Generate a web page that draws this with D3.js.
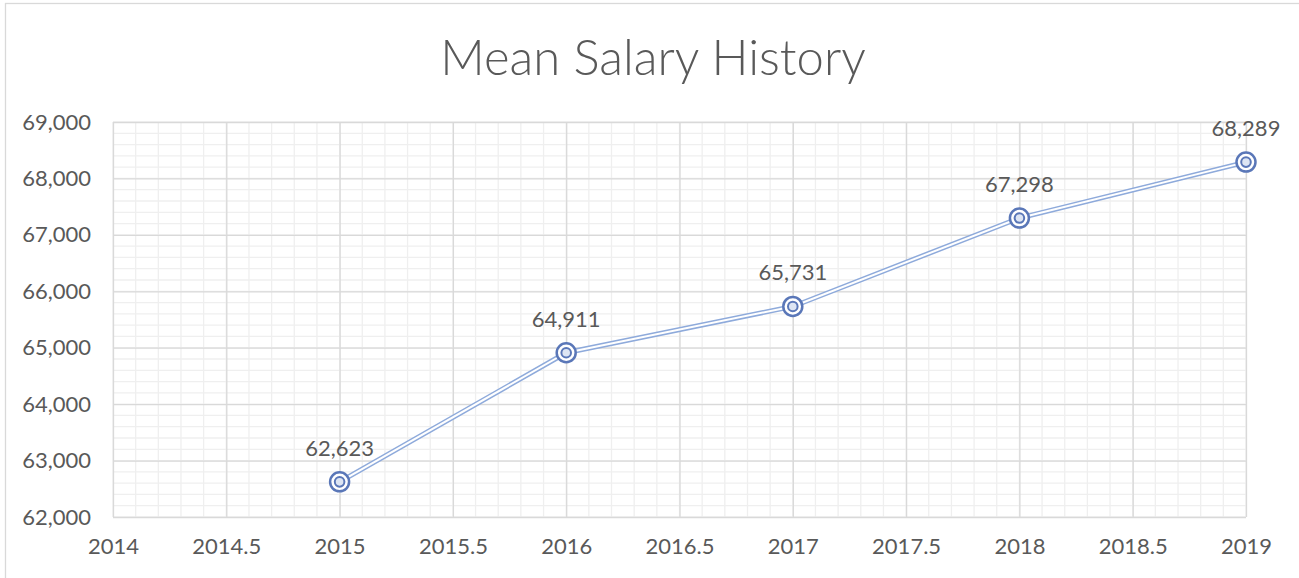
<!DOCTYPE html>
<html>
<head>
<meta charset="utf-8">
<script src="https://cdn.jsdelivr.net/npm/d3@7"></script>
<style>
  body { margin: 0; background: #fff; }
  svg text { font-family: Lato, "Open Sans", sans-serif; fill: #595959; }
</style>
</head>
<body>
<div id="chart"></div>
<script>
// data
var years = [2015, 2016, 2017, 2018, 2019];
var salaries = [62623, 64911, 65731, 67298, 68289];
var xTicks = [2014, 2014.5, 2015, 2015.5, 2016, 2016.5, 2017, 2017.5, 2018, 2018.5, 2019];
var yTicks = [62000, 63000, 64000, 65000, 66000, 67000, 68000, 69000];
var title = "Mean Salary History";

var W = 1299, H = 578;
var margin = { top: 122, right: 53, bottom: 61, left: 113 },
  width = W - margin.left - margin.right,
  height = H - margin.top - margin.bottom;

var svg = d3
  .select("#chart")
  .append("svg")
  .attr("width", W)
  .attr("height", H);

// chart frame
svg
  .append("rect")
  .attr("x", 5.5)
  .attr("y", 3.5)
  .attr("width", W)
  .attr("height", H)
  .attr("fill", "none")
  .attr("stroke", "#d9d9d9")
  .attr("stroke-width", 1.3);

svg
  .append("text")
  .attr("x", 653)
  .attr("y", 75)
  .attr("text-anchor", "middle")
  .style("font-size", "49px")
  .style("font-weight", 300)
  .text(title);

var g = svg
  .append("g")
  .attr("transform", "translate(" + margin.left + "," + margin.top + ")");

var x = d3.scaleLinear().domain([2014, 2019]).range([0, width]);
var y = d3.scaleLinear().domain([62000, 69000]).range([height, 0]);

// minor grid (5 per major)
var xMinor = d3.range(2014, 2019.0001, 0.1);
var yMinor = d3.range(62000, 69001, 200);
g.append("g")
  .selectAll("line")
  .data(xMinor)
  .enter()
  .append("line")
  .attr("x1", function (d) { return x(d); })
  .attr("x2", function (d) { return x(d); })
  .attr("y1", 0)
  .attr("y2", height)
  .attr("stroke", "#efefef")
  .attr("stroke-width", 1.3);
g.append("g")
  .selectAll("line")
  .data(yMinor)
  .enter()
  .append("line")
  .attr("x1", 0)
  .attr("x2", width)
  .attr("y1", function (d) { return y(d); })
  .attr("y2", function (d) { return y(d); })
  .attr("stroke", "#efefef")
  .attr("stroke-width", 1.3);

// major grid via axes
g.append("g")
  .attr("class", "grid")
  .attr("transform", "translate(0," + height + ")")
  .call(d3.axisBottom(x).tickValues(xTicks).tickSize(-height).tickFormat(""));
g.append("g")
  .attr("class", "grid")
  .call(d3.axisLeft(y).tickValues(yTicks).tickSize(-width).tickFormat(""));
g.selectAll(".grid .domain").remove();
g.selectAll(".grid line").attr("stroke", "#d9d9d9").attr("stroke-width", 1.3);

// axis labels
var xAxis = g
  .append("g")
  .attr("transform", "translate(0," + height + ")")
  .call(d3.axisBottom(x).tickValues(xTicks).tickSize(0).tickPadding(21).tickFormat(function (d) { return String(d); }));
var yAxis = g
  .append("g")
  .call(d3.axisLeft(y).tickValues(yTicks).tickSize(0).tickPadding(22).tickFormat(d3.format(",")));
[xAxis, yAxis].forEach(function (a) {
  a.select(".domain").remove();
  a.selectAll("text")
    .style("font-family", "Lato, 'Open Sans', sans-serif")
    .style("font-size", "22px")
    .attr("fill", "#595959");
});

var pts = years.map(function (d, i) { return [d, salaries[i]]; });
var line = d3
  .line()
  .x(function (d) { return x(d[0]); })
  .y(function (d) { return y(d[1]); });

// double line: wide light-blue stroke with a white core
g.append("path")
  .datum(pts)
  .attr("d", line)
  .attr("fill", "none")
  .attr("stroke", "#8eaadb")
  .attr("stroke-width", 5);
g.append("path")
  .datum(pts)
  .attr("d", line)
  .attr("fill", "none")
  .attr("stroke", "#ffffff")
  .attr("stroke-width", 2);

// double-ring markers
var marks = g.selectAll(".mark").data(pts).enter().append("g")
  .attr("transform", function (d) { return "translate(" + x(d[0]) + "," + y(d[1]) + ")"; });
marks.append("circle")
  .attr("r", 9.5)
  .attr("fill", "#ffffff")
  .attr("stroke", "#5a77b8")
  .attr("stroke-width", 2.5);
marks.append("circle")
  .attr("r", 4.8)
  .attr("fill", "#dde5f3")
  .attr("stroke", "#5a77b8")
  .attr("stroke-width", 2);

// data labels
g.selectAll(".lbl")
  .data(pts)
  .enter()
  .append("text")
  .attr("x", function (d) { return x(d[0]); })
  .attr("y", function (d) { return y(d[1]) - 26; })
  .attr("text-anchor", "middle")
  .style("font-size", "22px")
  .text(function (d) { return d3.format(",")(d[1]); });
</script>
</body>
</html>
